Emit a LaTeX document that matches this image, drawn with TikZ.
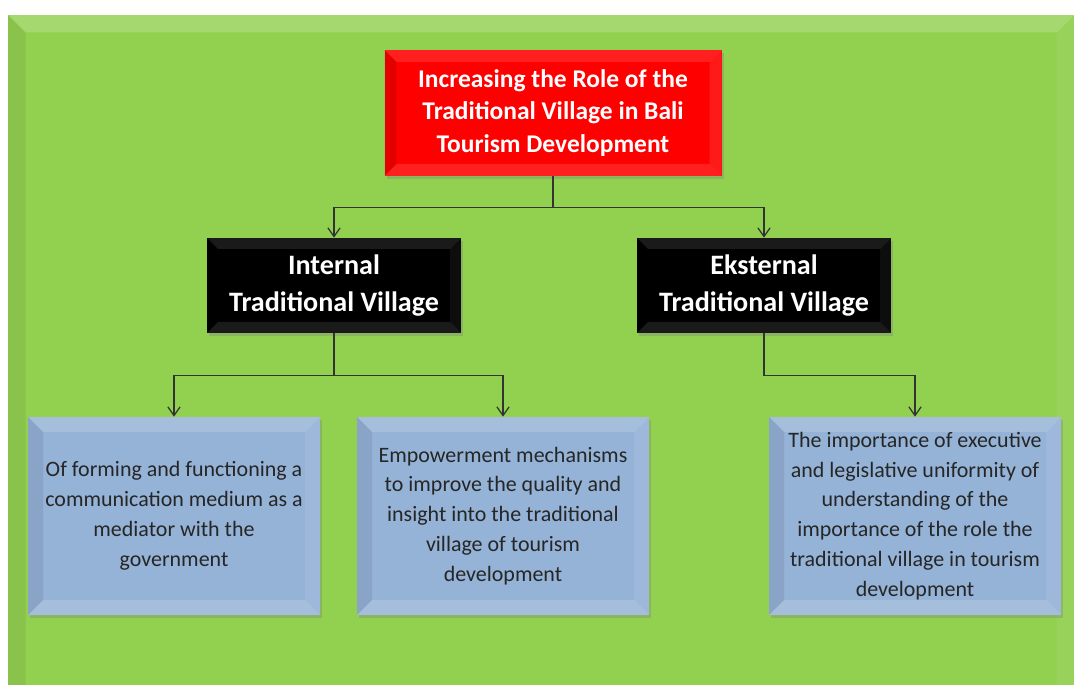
\documentclass[tikz,border=0pt]{standalone}
\usepackage{fontspec}
\setmainfont{Carlito}
\usetikzlibrary{calc,arrows.meta,shadows}
\definecolor{panelgreen}{HTML}{92D050}
\definecolor{boxred}{HTML}{FF0000}
\definecolor{boxblue}{HTML}{95B3D7}
\newcommand{\bevel}[3]
{   \fill[white,opacity=#2] (path picture bounding box.north west) -- (path picture bounding box.north east)
      -- ($(path picture bounding box.north east)+(-#1,-#1)$) -- ($(path picture bounding box.north west)+(#1,-#1)$) -- cycle;
    \fill[black,opacity=#3] (path picture bounding box.north west) -- (path picture bounding box.south west)
      -- ($(path picture bounding box.south west)+(#1,#1)$) -- ($(path picture bounding box.north west)+(#1,-#1)$) -- cycle;
    \fill[white,opacity=#3] (path picture bounding box.north east) -- (path picture bounding box.south east)
      -- ($(path picture bounding box.south east)+(-#1,#1)$) -- ($(path picture bounding box.north east)+(-#1,-#1)$) -- cycle;
    \fill[white,opacity=#2] (path picture bounding box.south west) -- (path picture bounding box.south east)
      -- ($(path picture bounding box.south east)+(-#1,#1)$) -- ($(path picture bounding box.south west)+(#1,#1)$) -- cycle;
}
\tikzset{
  boxshadow/.style={drop shadow={opacity=.35,shadow xshift=1.2pt,shadow yshift=-1.8pt}},
  goalbox/.style={fill=boxred, path picture={\bevel{0.24}{.12}{.10}}, boxshadow,
    minimum width=6.74cm, minimum height=2.52cm, align=center, text=white,
    font=\fontsize{14.5}{18.5}\selectfont\bfseries},
  sidebox/.style={fill=black, path picture={\bevel{0.22}{.10}{.05}}, boxshadow,
    minimum width=5.08cm, minimum height=1.9cm, align=center, text=white,
    font=\fontsize{16}{21.5}\selectfont\bfseries},
  itembox/.style={fill=boxblue, path picture={\bevel{0.3}{.15}{.08}}, boxshadow,
    minimum width=5.84cm, minimum height=3.96cm, align=center, text=black!85,
    font=\fontsize{12.5}{17}\selectfont},
  link/.style={draw=black!80, line width=0.7pt, -{Straight Barb[length=5pt,width=7pt]}}
}
\begin{document}
\begin{tikzpicture}

  \useasboundingbox (0,0) rectangle (21.48,13.68);
  \fill[white] (0,0) rectangle (21.48,13.68);
  \path[fill=panelgreen, path picture={\bevel{0.35}{.18}{.06}}] (0.16,-0.6) rectangle (21.48,13.38);

  \node[goalbox] (goal) at (11.06,11.42) {Increasing the Role of the\\Traditional Village in Bali\\Tourism Development};
  \node[sidebox] (int) at (6.68,7.97) {Internal\\Traditional Village};
  \node[sidebox] (ext) at (15.28,7.97) {Eksternal\\Traditional Village};
  \node[itembox] (forum) at (3.48,3.36) {Of forming and functioning a\\communication medium as a\\mediator with the\\government};
  \node[itembox] (power) at (10.06,3.36) {Empowerment mechanisms\\to improve the quality and\\insight into the traditional\\village of tourism\\development};
  \node[itembox] (unity) at (18.30,3.36) {The importance of executive\\and legislative uniformity of\\understanding of the\\importance of the role the\\traditional village in tourism\\development};

  \draw[link] (goal.south) -- ++(0,-0.62) -| (int.north);
  \draw[link] (goal.south) -- ++(0,-0.62) -| (ext.north);
  \draw[link] (int.south) -- ++(0,-0.84) -| (forum.north);
  \draw[link] (int.south) -- ++(0,-0.84) -| (power.north);
  \draw[link] (ext.south) -- ++(0,-0.84) -| (unity.north);

\end{tikzpicture}
\end{document}
